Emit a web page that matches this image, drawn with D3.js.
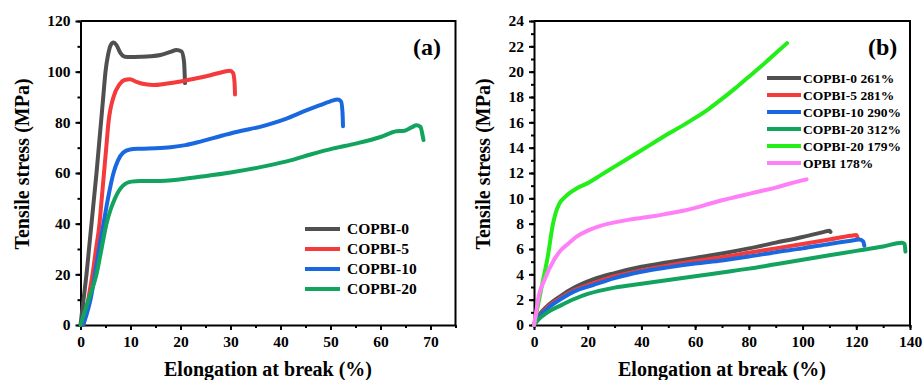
<!DOCTYPE html>
<html>
<head>
<meta charset="utf-8">
<script src="https://cdn.jsdelivr.net/npm/d3@7"></script>
<style>
  body { margin: 0; background: #fff; }
  text { font-family: "Liberation Serif", "Times New Roman", serif; font-weight: bold; fill: #000; }
</style>
</head>
<body>
<div id="chart"></div>
<script>
// (a) stress-strain curves, [elongation %, stress MPa]
const copbi0A = [[0,0],[0.6,10],[1.2,20],[1.7,30],[2.2,40],[2.7,50],[3.2,60],[3.65,70],[4.1,80],[4.55,90],[5,100],[5.5,106.5],[6,110.3],[6.6,111.5],[7.2,110.5],[8,107.3],[8.9,105.9],[10,105.8],[12,105.9],[14,106.1],[16,106.6],[18,107.8],[19.2,108.6],[20.2,108],[20.7,104],[20.9,95.5]];
const copbi5A = [[0.6,0],[1.2,6],[1.8,13],[2.4,20],[3.1,30],[3.8,40],[4.25,50],[4.7,60],[5.15,70],[5.6,80],[6.6,90],[7.8,95],[8.8,96.7],[9.9,97],[11.2,96],[13,95],[14.6,94.7],[17,95.2],[20,96.1],[23,97.3],[26,98.6],[28.5,99.9],[29.9,100.4],[30.5,99.5],[30.8,96],[30.9,91]];
const copbi10A = [[0.5,0],[1.2,4],[2,10],[2.9,20],[3.7,30],[4.6,40],[5.5,50],[6.6,60],[7.5,65],[8.5,68],[9.9,69.3],[12,69.6],[15,69.8],[18,70.2],[21,71],[24,72.4],[28.6,74.9],[32,76.6],[35.9,78.2],[38.5,79.7],[41.2,81.5],[44.5,84.2],[47.9,86.8],[50,88.3],[51.4,89],[52.1,88.3],[52.4,84],[52.5,78.5]];
const copbi20A = [[0,0],[1.6,10],[3.2,20],[4.2,30],[5.2,40],[6.1,46],[6.9,50],[8.5,55],[10.2,56.6],[12,56.8],[15,56.8],[20,57.5],[23.9,58.5],[30,60.2],[37.2,62.8],[42,65],[46,67.3],[50.6,69.7],[55,71.6],[60,74.2],[63.2,76.5],[64.8,76.7],[66.2,78],[67.2,78.8],[68,78.2],[68.4,75],[68.6,73]];

// (b) stress-strain curves
const copbi0B = [[0,0],[2,0.8],[5,1.5],[10,2.3],[15,2.95],[22,3.6],[30,4.1],[40,4.6],[50,4.95],[60,5.3],[70,5.65],[80,6.05],[90,6.5],[100,6.95],[108,7.35],[110,7.45],[110.4,7.35]];
const copbi5B = [[0,0],[2,0.7],[5,1.4],[10,2.15],[15,2.75],[22,3.3],[30,3.85],[40,4.3],[50,4.7],[60,5.05],[70,5.35],[80,5.7],[90,6.05],[100,6.4],[110,6.75],[118,7.05],[120,7.1],[120.5,6.9]];
const copbi10B = [[0,0],[2,0.65],[5,1.3],[10,2.05],[15,2.65],[22,3.15],[30,3.7],[40,4.2],[50,4.55],[60,4.85],[70,5.1],[80,5.4],[90,5.75],[100,6.05],[110,6.4],[118,6.65],[121,6.75],[122.6,6.6],[123,6.25]];
const copbi20B = [[0,0],[2,0.5],[5,1.0],[10,1.55],[15,2.05],[20,2.45],[30,2.95],[40,3.25],[50,3.55],[60,3.85],[70,4.15],[80,4.45],[90,4.8],[100,5.15],[110,5.5],[120,5.85],[130,6.2],[137,6.5],[138,6.4],[138.3,5.8]];
const copbi20bB = [[0,0],[2.7,2.85],[5.2,5.5],[7,7.9],[8,8.8],[9.5,9.6],[11.5,10.1],[13.8,10.5],[16,10.8],[20,11.2],[25,11.85],[30,12.5],[35,13.15],[40,13.8],[45,14.45],[50,15.1],[55,15.7],[60,16.35],[65,17.05],[70,17.85],[75,18.7],[80,19.6],[85,20.5],[90,21.45],[94.2,22.25]];
const opbiB = [[0,0],[0.8,1],[1.5,2],[4,3.6],[7.6,5.2],[10,5.9],[12.6,6.4],[16,7],[20,7.45],[25,7.85],[30,8.1],[35,8.3],[40,8.45],[45,8.6],[50,8.8],[55,9],[60,9.25],[65,9.55],[70,9.85],[75,10.1],[80,10.35],[85,10.6],[90,10.85],[95,11.15],[101.5,11.5]];

const namesA = ["COPBI-0", "COPBI-5", "COPBI-10", "COPBI-20"];
const namesB = ["COPBI-0 261%", "COPBI-5 281%", "COPBI-10 290%", "COPBI-20 312%", "COPBI-20 179%", "OPBI 178%"];
const colorsA = ["#505050", "#f43a3a", "#1a68e0", "#12a35e"];
const colorsB = ["#505050", "#f43a3a", "#1a68e0", "#12a35e", "#22ee18", "#ff80f6"];

const width = 923, height = 380;

const svg = d3
  .select("#chart")
  .append("svg")
  .attr("width", width)
  .attr("height", height);

const drawPanel = (opt) => {
  const x = d3.scaleLinear().domain(opt.xDomain).range(opt.xRange);
  const y = d3.scaleLinear().domain(opt.yDomain).range([325, 21]);
  const g = svg.append("g");

  // minor ticks
  const xMinor = d3.range(opt.xDomain[0], opt.xDomain[1] + 0.01, opt.xMinor);
  const yMinor = d3.range(opt.yDomain[0], opt.yDomain[1] + 0.01, opt.yMinor);

  g.append("g")
    .attr("transform", `translate(0,${y(0)})`)
    .call(d3.axisBottom(x).tickValues(xMinor).tickSize(3).tickFormat(""))
    .call((s) => s.select(".domain").remove())
    .selectAll("line").attr("stroke-width", 2);

  g.append("g")
    .attr("transform", `translate(${x(0)},0)`)
    .call(d3.axisLeft(y).tickValues(yMinor).tickSize(3).tickFormat(""))
    .call((s) => s.select(".domain").remove())
    .selectAll("line").attr("stroke-width", 2);

  // major ticks
  const xAxis = g.append("g")
    .attr("transform", `translate(0,${y(0)})`)
    .call(d3.axisBottom(x).tickValues(opt.xTicks).tickSize(5).tickPadding(6).tickSizeOuter(0));
  xAxis.selectAll("text").attr("font-size", 15.5);
  xAxis.selectAll("line").attr("stroke-width", 2);
  xAxis.select(".domain").attr("stroke-width", 2);

  const yAxis = g.append("g")
    .attr("transform", `translate(${x(0)},0)`)
    .call(d3.axisLeft(y).tickValues(opt.yTicks).tickSize(5).tickPadding(5).tickSizeOuter(0));
  yAxis.selectAll("text").attr("font-size", 15.5);
  yAxis.selectAll("line").attr("stroke-width", 2);
  yAxis.select(".domain").attr("stroke-width", 2);

  // top and right frame
  g.append("path")
    .attr("d", `M${x.range()[0]},${y.range()[1]}H${x.range()[1]}V${y.range()[0]}`)
    .attr("fill", "none")
    .attr("stroke", "#000")
    .attr("stroke-width", 2);

  const line = d3
    .line()
    .x((d) => x(d[0]))
    .y((d) => y(d[1]))
    .curve(d3.curveMonotoneX);

  g.selectAll("path.curve")
    .data(opt.series)
    .join("path")
    .attr("class", "curve")
    .attr("d", line)
    .attr("fill", "none")
    .attr("stroke", (d, i) => opt.colors[i])
    .attr("stroke-width", 4)
    .attr("stroke-linecap", "round")
    .attr("stroke-linejoin", "round");

  // axis titles
  g.append("text")
    .attr("x", opt.xTitleX)
    .attr("y", 376)
    .attr("text-anchor", "middle")
    .attr("font-size", 20)
    .text("Elongation at break (%)");

  g.append("text")
    .attr("transform", `translate(${opt.yTitleX},164) rotate(-90)`)
    .attr("text-anchor", "middle")
    .attr("font-size", 20)
    .text("Tensile stress (MPa)");

  g.append("text")
    .attr("x", opt.tagX)
    .attr("y", 55)
    .attr("font-size", 24)
    .text(opt.tag);

  // legend
  const leg = g.selectAll("g.leg")
    .data(opt.names)
    .join("g")
    .attr("class", "leg")
    .attr("transform", (d, i) => `translate(${opt.legX},${opt.legY + i * opt.legStep})`);

  leg.append("line")
    .attr("x1", 0)
    .attr("x2", opt.legLen)
    .attr("stroke", (d, i) => opt.colors[i])
    .attr("stroke-width", 4);

  leg.append("text")
    .attr("x", opt.legLen + opt.legGap)
    .attr("dy", "0.35em")
    .attr("font-size", opt.legFont)
    .text((d) => d);
};

drawPanel({
  xDomain: [0, 75], xRange: [80.5, 455.5],
  yDomain: [0, 120],
  xTicks: d3.range(0, 71, 10), xMinor: 5,
  yTicks: d3.range(0, 121, 20), yMinor: 10,
  series: [copbi0A, copbi5A, copbi10A, copbi20A],
  colors: colorsA, names: namesA,
  xTitleX: 268, yTitleX: 29, tag: "(a)", tagX: 413,
  legX: 305, legY: 229, legStep: 20, legLen: 35, legGap: 7, legFont: 15.5
});

drawPanel({
  xDomain: [0, 140], xRange: [534, 910],
  yDomain: [0, 24],
  xTicks: d3.range(0, 141, 20), xMinor: 10,
  yTicks: d3.range(0, 25, 2), yMinor: 1,
  series: [copbi0B, copbi5B, copbi10B, copbi20B, copbi20bB, opbiB],
  colors: colorsB, names: namesB,
  xTitleX: 722, yTitleX: 490, tag: "(b)", tagX: 868,
  legX: 767, legY: 78, legStep: 17, legLen: 34, legGap: 2, legFont: 13.5
});
</script>
</body>
</html>
